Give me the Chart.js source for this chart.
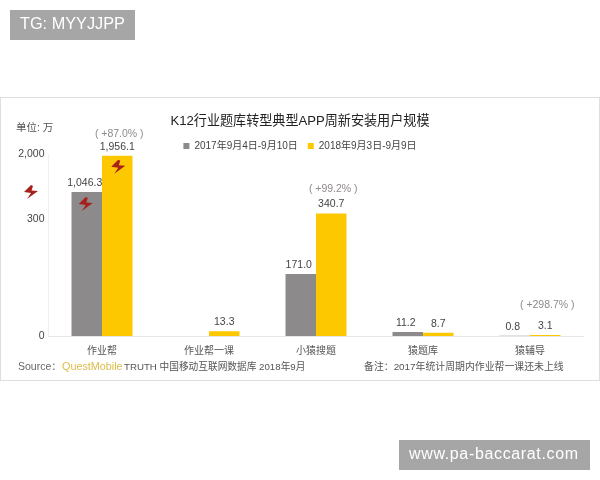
<!DOCTYPE html>
<html><head><meta charset="utf-8">
<style>html,body{margin:0;padding:0;background:#fff}canvas{display:block}</style>
<script src="https://cdn.jsdelivr.net/npm/chart.js@4"></script>
</head><body><canvas id="c" width="600" height="480"></canvas>
<script>
const categories = ['作业帮','作业帮一课','小猿搜题','猿题库','猿辅导'];
const series2017 = [1046.3,null,171.0,11.2,0.8];
const series2018 = [1956.1,13.3,340.7,8.7,3.1];
const growthLabels = ['( +87.0% )',null,'( +99.2% )',null,'( +298.7% )'];
const tickValues = [0,300,2000];
const seriesNames = ['2017年9月4日-9月10日','2018年9月3日-9月9日'];
const FONT = '"Liberation Sans","Noto Sans CJK SC",sans-serif';
const growthGap = [22,0,24.5,0,30];

// The original axis is broken: it is not linear between its ticks.
const axisValues = [0,171,300,340.7,1046.3,2000];
const axisShare  = [0,0.3407,0.6429,0.6731,0.7912,1];
class BrokenScale extends Chart.LinearScale {
  getPixelForValue(v){
    if(v===null||isNaN(v)) return NaN;
    let i=0; while(i<axisValues.length-2 && v>axisValues[i+1]) i++;
    const t=(v-axisValues[i])/(axisValues[i+1]-axisValues[i]);
    return this.getPixelForDecimal(axisShare[i]+t*(axisShare[i+1]-axisShare[i]));
  }
  getValueForPixel(p){
    const d=this.getDecimalForPixel(p);
    let i=0; while(i<axisShare.length-2 && d>axisShare[i+1]) i++;
    const t=(d-axisShare[i])/(axisShare[i+1]-axisShare[i]);
    return axisValues[i]+t*(axisValues[i+1]-axisValues[i]);
  }
}
BrokenScale.id='brokenAxis';
BrokenScale.defaults=Chart.LinearScale.defaults;
Chart.register(BrokenScale);

function bolt(ctx,x,y){
  ctx.save();ctx.translate(x,y);ctx.fillStyle='#a8201c';
  ctx.beginPath();
  ctx.moveTo(0,-7);ctx.lineTo(-7,0);ctx.lineTo(0,1);ctx.lineTo(-4,7);
  ctx.lineTo(7,-1);ctx.lineTo(0.5,-1.5);ctx.lineTo(2,-6);ctx.closePath();ctx.fill();
  ctx.restore();
}
function text(ctx,s,x,y,font,color,align){
  ctx.font=font;ctx.fillStyle=color;ctx.textAlign=align||'left';ctx.textBaseline='middle';ctx.fillText(s,x,y);
}
const decor={
  id:'decor',
  beforeLayout(chart){
    const l=chart.legend;
    if(l && !l._tight){
      const fit=l.fit;
      l.fit=function(){fit.call(this);this.height-=7;};
      l._tight=true;
    }
  },
  beforeDraw(chart){
    const c=chart.ctx;c.save();
    c.fillStyle='#fff';c.fillRect(0,0,600,480);
    c.strokeStyle='#dedede';c.lineWidth=1;c.strokeRect(0.5,97.5,599,283);
    c.restore();
  },
  afterDraw(chart){
    const c=chart.ctx;c.save();
    const m0=chart.getDatasetMeta(0).data,m1=chart.getDatasetMeta(1).data;
    const vf='10.5px '+FONT;
    const fmt=v=>v>=1000?v.toLocaleString('en-US',{minimumFractionDigits:1}):v.toFixed(1);
    categories.forEach((_,i)=>{
      if(series2017[i]!==null) text(c,fmt(series2017[i]),m0[i].x-2,m0[i].y-9,vf,'#444','center');
      text(c,fmt(series2018[i]),m1[i].x,m1[i].y-9,vf,'#444','center');
      if(growthLabels[i]) text(c,growthLabels[i],m1[i].x+2,m1[i].y-growthGap[i],vf,'#8f8a8a','center');
    });
    bolt(c,m0[0].x-1,m0[0].y+12);
    bolt(c,m1[0].x+1,m1[0].y+11);
    bolt(c,31,192);
    text(c,'单位: 万',16,128.5,'10.5px '+FONT,'#555');
    text(c,'Source：',18,367,'10.5px '+FONT,'#666');
    text(c,'QuestMobile',62,367,'10.8px '+FONT,'#dcbc4a');
    text(c,'TRUTH 中国移动互联网数据库 2018年9月',124,367,'9.7px '+FONT,'#555');
    text(c,'备注：2017年统计周期内作业帮一课还未上线',364,367,'9.9px '+FONT,'#555');
    c.fillStyle='#a6a6a6';c.fillRect(10,10,125,30);c.fillRect(399,440,191,30);
    text(c,'TG: MYYJJPP',20,25,'16.3px '+FONT,'#fff');
    c.letterSpacing='0.65px';
    text(c,'www.pa-baccarat.com',409,455,'16px '+FONT,'#fff');
    c.restore();
  }
};
new Chart(document.getElementById('c'),{
  type:'bar',
  data:{labels:categories,datasets:[
    {label:seriesNames[0],data:series2017,backgroundColor:'#8c8a8b'},
    {label:seriesNames[1],data:series2018,backgroundColor:'#fdc800'}
  ]},
  options:{
    responsive:false,animation:false,devicePixelRatio:1,
    layout:{padding:{left:16.5,right:16.5,top:0,bottom:0}},
    datasets:{bar:{categoryPercentage:0.57,barPercentage:1}},
    plugins:{
      tooltip:{enabled:false},
      title:{display:true,text:'K12行业题库转型典型APP周新安装用户规模',color:'#222',
        font:{family:FONT,size:13.1,weight:'normal'},padding:{top:114,bottom:1.4}},
      legend:{display:true,position:'top',labels:{boxWidth:6,boxHeight:6,padding:10,color:'#444',
        font:{family:FONT,size:10}}}
    },
    scales:{
      x:{grid:{display:false,drawTicks:false},border:{color:'#e6e6e6'},
        ticks:{color:'#555',font:{family:FONT,size:10},padding:9,maxRotation:0},
        afterFit(s){s.height=144;}},
      y:{type:'brokenAxis',min:0,max:2000,grid:{display:false,drawTicks:false},border:{color:'#f0f0f0'},
        afterBuildTicks(s){s.ticks=tickValues.map(v=>({value:v}));},
        afterFit(s){s.width=32;},
        ticks:{color:'#444',padding:4,font:{family:FONT,size:10.5},
          callback:v=>v.toLocaleString('en-US')}}
    }
  },
  plugins:[decor]
});
</script></body></html>
